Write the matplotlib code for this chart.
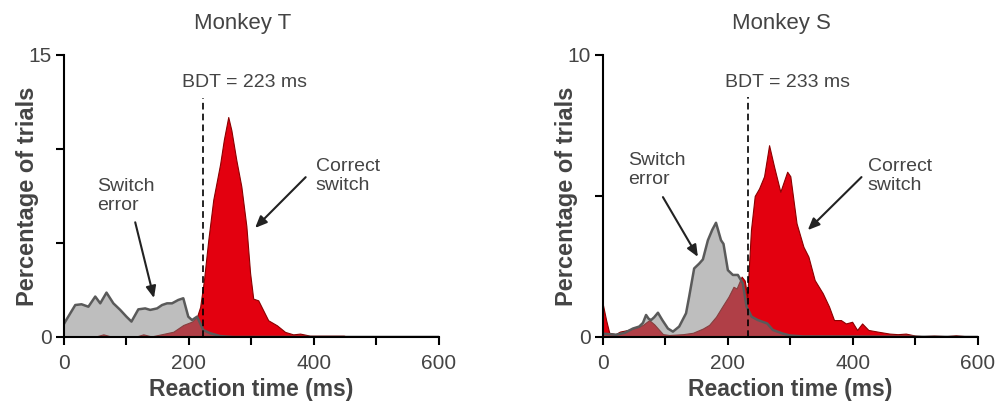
import matplotlib
matplotlib.use("Agg")
import matplotlib.pyplot as plt
import numpy as np

plt.rcParams['font.family'] = ['Liberation Sans', 'DejaVu Sans']

# Monkey T - switch error (gray)
t_err_T = [0, 2, 18, 28, 39, 50, 58, 68, 79, 90, 100, 108, 119, 130, 138, 149, 157, 165, 173,
           183, 191, 199, 205, 213, 218, 223, 234, 250, 270, 600]
y_err_T = [0.7, 0.82, 1.70, 1.74, 1.61, 2.15, 1.79, 2.36, 1.79, 1.44, 1.08, 0.82, 1.47, 1.52, 1.44,
           1.52, 1.70, 1.79, 1.79, 1.97, 2.06, 1.08, 0.90, 1.08, 0.73, 0.37, 0.2, 0.05, 0.0, 0.0]

# Monkey T - correct switch (red)
t_cor_T = [0, 50, 63, 75, 115, 127, 140, 175, 191, 205, 213, 218, 224, 231, 239, 250, 256, 263,
           268, 276, 284, 292, 298, 303, 311, 319, 327, 341, 354, 367, 378, 394, 426, 448, 455, 600]
y_cor_T = [0.0, 0.02, 0.14, 0.03, 0.02, 0.14, 0.03, 0.28, 0.64, 0.82, 1.08, 1.6, 3.0, 5.15, 7.3,
           9.2, 10.5, 11.7, 11.0, 9.4, 8.0, 5.9, 3.4, 2.04, 1.95, 1.42, 0.89, 0.62, 0.27, 0.14,
           0.18, 0.07, 0.07, 0.07, 0.0, 0.0]

# Monkey S - switch error (gray)
t_err_S = [0, 10, 21, 35, 48, 58, 64, 69, 73, 77, 82, 88, 95, 104, 112, 122, 133, 138, 146, 154,
           160, 168, 175, 181, 189, 193, 200, 208, 216, 224, 230, 238, 248, 263, 272, 288, 300, 320, 600]
y_err_S = [0.12, 0.1, 0.08, 0.15, 0.3, 0.37, 0.5, 0.78, 0.65, 0.6, 0.7, 0.86, 0.6, 0.3, 0.19, 0.37,
           0.84, 1.43, 2.43, 2.6, 2.75, 3.43, 3.8, 4.05, 3.43, 3.3, 2.37, 2.2, 2.2, 1.9, 1.07, 0.72,
           0.6, 0.48, 0.25, 0.12, 0.05, 0.02, 0.0]

# Monkey S - correct switch (red)
t_cor_S = [0, 5, 10, 20, 27, 40, 48, 56, 64, 74, 82, 90, 96, 106, 128, 144, 160, 170, 181, 191,
           201, 209, 214, 222, 227, 231, 237, 243, 250, 258, 266, 274, 284, 295, 300, 310, 321, 329,
           339, 352, 362, 370, 381, 389, 399, 407, 415, 425, 440, 459, 472, 485, 500, 512, 530, 550,
           565, 580, 600]
y_cor_S = [1.13, 0.6, 0.15, 0.1, 0.19, 0.25, 0.3, 0.35, 0.43, 0.6, 0.45, 0.25, 0.1, 0.07, 0.1,
           0.15, 0.3, 0.43, 0.72, 1.08, 1.43, 1.78, 1.72, 2.14, 2.0, 1.43, 3.8, 5.0, 5.27, 5.7, 6.8,
           6.04, 5.15, 5.86, 5.7, 4.03, 3.2, 2.85, 2.02, 1.55, 1.08, 0.6, 0.6, 0.48, 0.54, 0.25,
           0.48, 0.25, 0.19, 0.12, 0.1, 0.12, 0.05, 0.03, 0.05, 0.03, 0.06, 0.03, 0.03]

panels = [
    dict(title="Monkey T", t_err=t_err_T, y_err=y_err_T, t_cor=t_cor_T, y_cor=y_cor_T,
         ymax=15, yticks=[0, 5, 10, 15], bdt=223, bdt_top=12.7, bdt_txt=(189, 13.56),
         err_txt=(53, 7.5), err_arrow=((114, 6.1), (144, 2.07)),
         cor_txt=(403, 8.56), cor_arrow=((387, 8.5), (306, 5.8))),
    dict(title="Monkey S", t_err=t_err_S, y_err=y_err_S, t_cor=t_cor_S, y_cor=y_cor_S,
         ymax=10, yticks=[0, 5, 10], bdt=233, bdt_top=8.5, bdt_txt=(195, 9.04),
         err_txt=(40, 5.92), err_arrow=((96, 4.96), (152, 2.84)),
         cor_txt=(424, 5.7), cor_arrow=((414, 5.67), (328, 3.79))),
]

txt_col = '#444444'
fig = plt.figure(figsize=(9.99, 4.03), dpi=100)
lefts = [0.0641, 0.6036]

for left, p in zip(lefts, panels):
    ax = fig.add_axes([left, 0.1638, 0.3750, 0.6998])
    ax.fill_between(p['t_cor'], p['y_cor'], color='#e3000f', edgecolor='#8b0000', lw=0.8, zorder=2)
    ax.fill_between(p['t_err'], p['y_err'], color='#7f7f7f', alpha=0.5, lw=0, zorder=3)
    ax.plot(p['t_err'], p['y_err'], color='#5a5a5a', lw=1.8, zorder=4)
    ax.plot([p['bdt'], p['bdt']], [0, p['bdt_top']], color='black', lw=1.2,
            linestyle=(0, (4, 2.5)), zorder=5)

    ax.set_xlim(0, 600)
    ax.set_ylim(0, p['ymax'])
    ax.set_xticks([0, 100, 200, 300, 400, 500, 600])
    ax.set_xticklabels(['0', '', '200', '', '400', '', '600'])
    ax.set_yticks(p['yticks'])
    ax.set_yticklabels(['0'] + [''] * (len(p['yticks']) - 2) + [str(p['ymax'])])
    for s in ['top', 'right']:
        ax.spines[s].set_visible(False)
    for s in ['left', 'bottom']:
        ax.spines[s].set_linewidth(1.5)
        ax.spines[s].set_zorder(6)
    ax.tick_params(direction='out', length=6, width=1.5, labelsize=15, labelcolor=txt_col)
    ax.tick_params(axis='x', pad=6)
    ax.tick_params(axis='y', pad=3)

    ax.set_xlabel("Reaction time (ms)", fontsize=16.5, fontweight='bold', color=txt_col, labelpad=4)
    ax.set_ylabel("Percentage of trials", fontsize=17, fontweight='bold', color=txt_col, labelpad=-8)

    ax.text(286, p['ymax'] * 1.11, p['title'], fontsize=16, color=txt_col, ha='center', va='center',
            clip_on=False)
    ax.text(p['bdt_txt'][0], p['bdt_txt'][1], "BDT = %d ms" % p['bdt'], fontsize=14, color=txt_col,
            ha='left', va='center')
    ax.text(p['err_txt'][0], p['err_txt'][1], "Switch\nerror", fontsize=14, color=txt_col,
            ha='left', va='center', linespacing=1.15)
    ax.text(p['cor_txt'][0], p['cor_txt'][1], "Correct\nswitch", fontsize=14, color=txt_col,
            ha='left', va='center', linespacing=1.15)
    for tail, head in [p['err_arrow'], p['cor_arrow']]:
        ax.annotate("", xy=head, xytext=tail,
                    arrowprops=dict(arrowstyle='-|>,head_length=0.7,head_width=0.3', color='#222222',
                                    lw=1.5, shrinkA=0, shrinkB=0))

fig.savefig("out.png", dpi=100)
